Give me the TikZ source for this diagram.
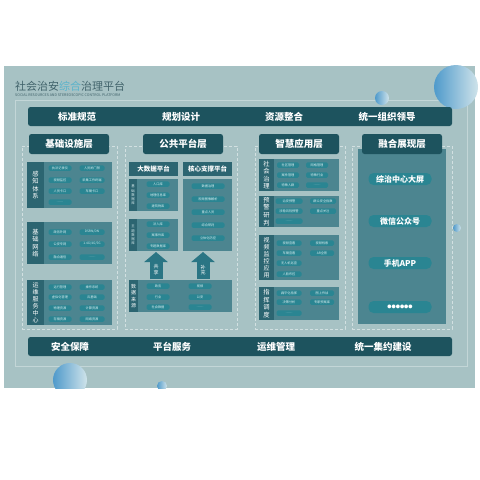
\documentclass[tikz,border=0pt]{standalone}
\usepackage{fontspec}
\setmainfont{Noto Sans CJK SC}
\usetikzlibrary{arrows.meta}
\definecolor{bgp}{HTML}{A7C2C4}
\definecolor{darkb}{HTML}{1D535E}
\definecolor{grpc}{HTML}{4C8590}
\definecolor{stripc}{HTML}{2C6571}
\definecolor{pillc}{HTML}{2A8592}
\definecolor{pilltext}{HTML}{D8ECEE}
\definecolor{dashc}{HTML}{D2E0E1}
\definecolor{framec}{HTML}{C3D6D7}
\definecolor{titlec}{HTML}{41636B}
\definecolor{titleb}{HTML}{5BB3CB}
\definecolor{arrowc}{HTML}{2A7584}
\definecolor{circb}{HTML}{4F9ACB}
\definecolor{circl}{HTML}{CFE3EA}
\tikzset{
  bar/.style={fill=darkb, rounded corners=2.5pt, inner sep=0pt, outer sep=0pt, anchor=north west},
  bartext/.style={text=white, font=\fontsize{9.5}{10}\selectfont\bfseries, inner sep=0pt},
  hdr/.style={fill=darkb, rounded corners=2.5pt, text=white, font=\fontsize{9.5}{10}\selectfont\bfseries, inner sep=0pt, outer sep=0pt, anchor=north west},
  subhdr/.style={fill=stripc, text=white, font=\fontsize{6.5}{7}\selectfont\bfseries, inner sep=0pt, outer sep=0pt, anchor=north west},
  grp/.style={fill=grpc, inner sep=0pt, outer sep=0pt, anchor=north west},
  strip/.style={fill=stripc, text=white, inner sep=0pt, outer sep=0pt, anchor=north west, align=center, font=\fontsize{6.3}{7.6}\selectfont},
  thinstrip/.style={fill=stripc, text=pilltext, inner sep=0pt, outer sep=0pt, anchor=north west, align=center, font=\fontsize{3.4}{4.2}\selectfont},
  pill/.style={fill=pillc, rounded corners=1.5pt, text=pilltext, inner sep=0pt, outer sep=0pt, minimum height=5.5pt, font=\fontsize{3.2}{3.2}\selectfont},
  bigpill/.style={fill=pillc, rounded corners=5pt, text=white, inner sep=0pt, minimum width=63pt, minimum height=12pt, font=\fontsize{8}{8}\selectfont\bfseries},
  dframe/.style={draw=dashc, dash pattern=on 3pt off 2pt, line width=0.7pt, inner sep=0pt, outer sep=0pt, anchor=north west},
  fatarrow/.style={draw=arrowc, line width=13pt, -{Triangle[width=23pt,length=10pt]}},
  arrowlbl/.style={text=white, align=center, font=\fontsize{5}{5.8}\selectfont, inner sep=0pt}
}
\begin{document}
\begin{tikzpicture}[x=1pt,y=-1pt]
\useasboundingbox (0,0) rectangle (480,480);
\fill[white] (0,0) rectangle (480,480);
% background panel
\fill[bgp] (4,66) rectangle (475,388);
\draw[framec, line width=0.6pt] (15,100) rectangle (467,366);
% decorative circles
\begin{scope}
\clip (4,66) rectangle (475,388);
\shade[left color=circb, right color=circl] (70,380) circle (17);
\shade[left color=circb, right color=circl] (162,386) circle (5);
\end{scope}
\shade[left color=circb, right color=circl] (456,87) circle (22);
\shade[left color=circb, right color=circl] (382,98) circle (7);
\shade[left color=circb, right color=circl] (457,228) circle (4);
% title
\node[anchor=west, inner sep=0pt, text=titlec, font=\fontsize{11}{11}\selectfont] (title) at (15,86) {社会治安{\color{titleb}综合}治理平台};
\node[anchor=west, inner sep=0pt, text=titlec, font=\fontsize{3.6}{4}\selectfont] (subtitle) at (15,95) {SOCIAL RESOURCES AND STEREOSCOPIC CONTROL PLATFORM};
% top bar
\node[bar, minimum width=424pt, minimum height=19pt] (topbar) at (28,107) {};
\node[bartext] (t1) at (77,116.5) {标准规范};
\node[bartext] (t2) at (181,116.5) {规划设计};
\node[bartext] (t3) at (284,116.5) {资源整合};
\node[bartext] (t4) at (387,116.5) {统一组织领导};
% bottom bar
\node[bar, minimum width=424pt, minimum height=19pt] (botbar) at (28,337) {};
\node[bartext] (b1) at (70,346.5) {安全保障};
\node[bartext] (b2) at (172,346.5) {平台服务};
\node[bartext] (b3) at (276,346.5) {运维管理};
\node[bartext] (b4) at (383,346.5) {统一集约建设};
% dashed column frames
\node[dframe, minimum width=95pt, minimum height=183pt] (f1) at (22,146) {};
\node[dframe, minimum width=112pt, minimum height=183pt] (f2) at (125,146) {};
\node[dframe, minimum width=90pt, minimum height=183pt] (f3) at (255,146) {};
\node[dframe, minimum width=100pt, minimum height=183pt] (f4) at (352,146) {};
% column 4 panel
\node[grp, minimum width=88pt, minimum height=175pt] (g4) at (358,149) {};
% column headers
\node[hdr, minimum width=80pt, minimum height=20pt] (h1) at (29,134) {基础设施层};
\node[hdr, minimum width=80pt, minimum height=20pt] (h2) at (143,134) {公共平台层};
\node[hdr, minimum width=80pt, minimum height=20pt] (h3) at (259,134) {智慧应用层};
\node[hdr, minimum width=80pt, minimum height=20pt] (h4) at (362,134) {融合展现层};

% ===== column 1 =====
\node[grp, minimum width=85pt, minimum height=46pt] (g11) at (27,162) {};
\node[strip, minimum width=17pt, minimum height=46pt] (s11) at (27,162) {感\\知\\体\\系};
\node[pill, minimum width=23pt] (p111) at (60,168) {执法记录仪};
\node[pill, minimum width=25pt] (p112) at (92,168) {人员闸门禁};
\node[pill, minimum width=23pt] (p113) at (60,180) {视频监控};
\node[pill, minimum width=25pt] (p114) at (92,180) {采集工作终端};
\node[pill, minimum width=23pt] (p115) at (60,191) {人员卡口};
\node[pill, minimum width=25pt] (p116) at (92,191) {车辆卡口};
\node[pill, minimum width=23pt] (p117) at (60,202) {……};

\node[grp, minimum width=85pt, minimum height=42pt] (g12) at (27,222) {};
\node[strip, minimum width=17pt, minimum height=42pt] (s12) at (27,222) {基\\础\\网\\络};
\node[pill, minimum width=23pt] (p121) at (60,232) {政务外网};
\node[pill, minimum width=25pt] (p122) at (92,232) {DSRN/DN};
\node[pill, minimum width=23pt] (p123) at (60,244) {公安专网};
\node[pill, minimum width=25pt] (p124) at (92,244) {1.4G/4G/5G};
\node[pill, minimum width=23pt] (p125) at (60,257) {融合通信};
\node[pill, minimum width=25pt] (p126) at (92,257) {……};

\node[grp, minimum width=85pt, minimum height=45pt] (g13) at (27,280) {};
\node[strip, minimum width=17pt, minimum height=45pt, font=\fontsize{6}{7}\selectfont] (s13) at (27,280) {运\\维\\服\\务\\中\\心};
\node[pill, minimum width=23pt] (p131) at (60,287) {运行管理};
\node[pill, minimum width=25pt] (p132) at (92,287) {操作系统};
\node[pill, minimum width=23pt] (p133) at (60,297) {虚拟化管理};
\node[pill, minimum width=25pt] (p134) at (92,297) {云基础};
\node[pill, minimum width=23pt] (p135) at (60,308) {物理资源};
\node[pill, minimum width=25pt] (p136) at (92,308) {计算资源};
\node[pill, minimum width=23pt] (p137) at (60,319) {存储资源};
\node[pill, minimum width=25pt] (p138) at (92,319) {网络资源};

% ===== column 2 =====
\node[subhdr, minimum width=49pt, minimum height=14pt] (bdp) at (129,162) {大数据平台};
\node[subhdr, minimum width=49pt, minimum height=14pt] (csp) at (183,162) {核心支撑平台};
\node[grp, minimum width=49pt, minimum height=32pt] (g21) at (129,179) {};
\node[thinstrip, minimum width=8pt, minimum height=32pt] (s21) at (129,179) {基\\础\\数\\据\\库};
\node[pill, minimum width=23pt] (p211) at (158,184) {人口库};
\node[pill, minimum width=23pt] (p212) at (158,195) {地理信息库};
\node[pill, minimum width=23pt] (p213) at (158,206) {建筑物库};
\node[grp, minimum width=49pt, minimum height=32pt] (g22) at (129,219) {};
\node[thinstrip, minimum width=8pt, minimum height=32pt] (s22) at (129,219) {主\\题\\数\\据\\库};
\node[pill, minimum width=23pt] (p221) at (158,224) {法人库};
\node[pill, minimum width=23pt] (p222) at (158,235) {案事件库};
\node[pill, minimum width=23pt] (p223) at (158,246) {专题数据库};
\node[grp, minimum width=49pt, minimum height=72pt] (g23) at (183,179) {};
\node[pill, minimum width=33pt] (p231) at (208,186) {数据治理};
\node[pill, minimum width=33pt] (p232) at (208,199) {视频图像解析};
\node[pill, minimum width=33pt] (p233) at (208,212) {重点人员};
\node[pill, minimum width=33pt] (p234) at (208,225) {综合研判};
\node[pill, minimum width=33pt] (p235) at (208,238) {立体化防控};
\node[grp, minimum width=103pt, minimum height=32pt] (src) at (129,280) {};
\node[strip, minimum width=9pt, minimum height=32pt, font=\fontsize{5}{6.5}\selectfont] (s24) at (129,280) {数\\据\\来\\源};
\node[pill, minimum width=23pt] (p241) at (158,286) {政务};
\node[pill, minimum width=23pt] (p242) at (200,286) {视频};
\node[pill, minimum width=23pt] (p243) at (158,297) {行业};
\node[pill, minimum width=23pt] (p244) at (200,297) {公安};
\node[pill, minimum width=23pt] (p245) at (158,307) {社会数据};
\node[pill, minimum width=23pt] (p246) at (200,307) {……};
% arrows
\coordinate (a1s) at (156,279);
\coordinate (a1e) at (156,252);
\coordinate (a2s) at (203,279);
\coordinate (a2e) at (203,252);
\draw[fatarrow] (a1s) -- (a1e);
\draw[fatarrow] (a2s) -- (a2e);
\node[arrowlbl] (al1) at (156,270) {共\\享};
\node[arrowlbl] (al2) at (203,270) {补\\充};

% ===== column 3 =====
\node[grp, minimum width=80pt, minimum height=32pt] (g31) at (259,159) {};
\node[strip, minimum width=15pt, minimum height=32pt] (s31) at (259,159) {社\\会\\治\\理};
\node[pill, minimum width=22pt] (p311) at (288,165) {社区管理};
\node[pill, minimum width=22pt] (p312) at (317,165) {网格管理};
\node[pill, minimum width=22pt] (p313) at (288,175) {案件管理};
\node[pill, minimum width=22pt] (p314) at (317,175) {特殊行业};
\node[pill, minimum width=22pt] (p315) at (288,185) {特殊人群};
\node[pill, minimum width=22pt] (p316) at (317,185) {……};

\node[grp, minimum width=80pt, minimum height=31pt] (g32) at (259,196) {};
\node[strip, minimum width=15pt, minimum height=31pt] (s32) at (259,196) {预\\警\\研\\判};
\node[pill, minimum width=27pt] (p321) at (289,201) {治安预警};
\node[pill, minimum width=26pt] (p322) at (323,201) {群众安全指数};
\node[pill, minimum width=27pt] (p323) at (289,211) {涉稳风险预警};
\node[pill, minimum width=26pt] (p324) at (323,211) {重点关注};
\node[pill, minimum width=27pt] (p325) at (289,221) {……};

\node[grp, minimum width=80pt, minimum height=45pt] (g33) at (259,235) {};
\node[strip, minimum width=15pt, minimum height=45pt, font=\fontsize{6}{7.1}\selectfont] (s33) at (259,235) {视\\频\\监\\控\\应\\用};
\node[pill, minimum width=25pt] (p331) at (289,243) {视频查看};
\node[pill, minimum width=24pt] (p332) at (322,243) {视频检索};
\node[pill, minimum width=25pt] (p333) at (289,253) {车辆查看};
\node[pill, minimum width=24pt] (p334) at (322,253) {AR全景};
\node[pill, minimum width=25pt] (p335) at (289,263) {无人机巡查};
\node[pill, minimum width=25pt] (p336) at (289,274) {人脸布控};

\node[grp, minimum width=80pt, minimum height=33pt] (g34) at (259,287) {};
\node[strip, minimum width=15pt, minimum height=33pt] (s34) at (259,287) {指\\挥\\调\\度};
\node[pill, minimum width=25pt] (p341) at (289,293) {扁平化指挥};
\node[pill, minimum width=24pt] (p342) at (322,293) {图上作战};
\node[pill, minimum width=25pt] (p343) at (289,302) {决策分析};
\node[pill, minimum width=24pt] (p344) at (322,302) {专家预案库};
\node[pill, minimum width=25pt] (p345) at (289,313) {……};

% ===== column 4 =====
\node[bigpill] (p41) at (400,179) {综治中心大屏};
\node[bigpill] (p42) at (400,221) {微信公众号};
\node[bigpill] (p43) at (400,263) {手机APP};
\node[bigpill, font=\fontsize{4.2}{4.2}\selectfont] (p44) at (400,307) {●●●●●●};
\end{tikzpicture}
\end{document}
